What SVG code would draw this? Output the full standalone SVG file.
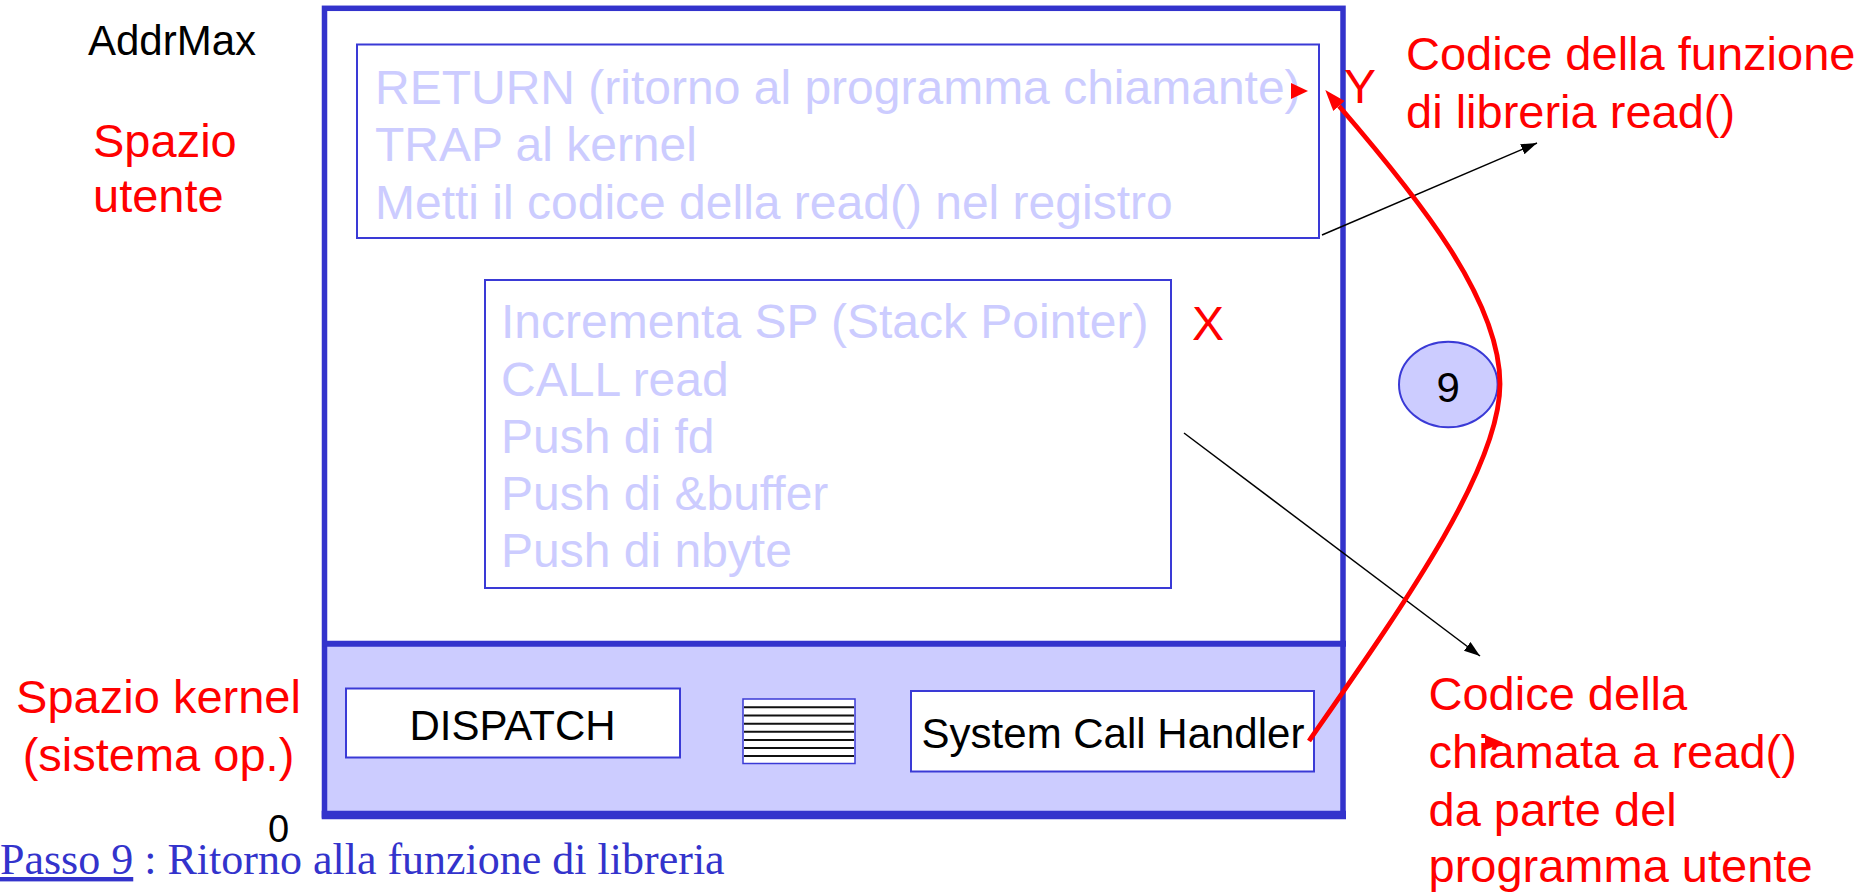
<svg xmlns="http://www.w3.org/2000/svg" width="1857" height="893" viewBox="0 0 1857 893">
<style>
.sans{font-family:"Liberation Sans",Arial,sans-serif}
.code{font-family:"Liberation Sans",Arial,sans-serif;font-size:48px;fill:#ccccff}
.red{font-family:"Liberation Sans",Arial,sans-serif;font-size:47px;fill:#ff0000}
.blk{font-family:"Liberation Sans",Arial,sans-serif;font-size:42px;fill:#000}
.box{fill:#ffffff;stroke:#3a3ad6;stroke-width:2}
.outer{fill:none;stroke:#3333cc;stroke-width:5.5}
.stripe{stroke:#111;stroke-width:2}
.conn{stroke:#000;stroke-width:1.5;fill:none}
</style>
<defs>
<marker id="ab" markerUnits="userSpaceOnUse" markerWidth="17" markerHeight="12" refX="16" refY="5.5" orient="auto">
<path d="M0,0 L16,5.5 L0,11 z" fill="#000"/>
</marker>
<marker id="ar" markerUnits="userSpaceOnUse" markerWidth="22" markerHeight="16" refX="0" refY="7.5" orient="auto">
<path d="M0,0 L21,7.5 L0,15 z" fill="#ff0000"/>
</marker>
</defs>
<rect width="1857" height="893" fill="#ffffff"/>

<g id="memory">
<rect x="324.5" y="643.7" width="1018.5" height="171.3" fill="#ccccff"/>
<rect class="outer" x="324.5" y="8.3" width="1018.5" height="806.7"/>
<line x1="322" y1="643.7" x2="1346" y2="643.7" stroke="#3333cc" stroke-width="6"/>
<line x1="321.7" y1="815" x2="1346" y2="815" stroke="#3333cc" stroke-width="8.5"/>
</g>

<g id="library-code">
<rect class="box" x="357" y="44.5" width="962" height="193.5"/>
<text class="code" x="375" y="103.5">RETURN (ritorno al programma chiamante)</text>
<text class="code" x="375" y="161">TRAP al kernel</text>
<text class="code" x="375" y="218.5">Metti il codice della read() nel registro</text>
<polygon points="1291,83 1308,91 1291,99" fill="#ff0000"/>
</g>

<g id="caller-code">
<rect class="box" x="485" y="280" width="686" height="308"/>
<text class="code" x="501" y="338.3">Incrementa SP (Stack Pointer)</text>
<text class="code" x="501" y="395.5">CALL read</text>
<text class="code" x="501" y="453">Push di fd</text>
<text class="code" x="501" y="510">Push di &amp;buffer</text>
<text class="code" x="501" y="567">Push di nbyte</text>
</g>

<g id="dispatch">
<rect class="box" x="346" y="688.5" width="334" height="69"/>
<text class="blk" x="512.5" y="740" text-anchor="middle">DISPATCH</text>
</g>

<g id="table">
<rect x="743" y="699" width="112" height="64.5" fill="#ffffff" stroke="#3a3ad6" stroke-width="1.5"/>
<line class="stripe" x1="744" y1="707.3" x2="854" y2="707.3"/>
<line class="stripe" x1="744" y1="715.5" x2="854" y2="715.5"/>
<line class="stripe" x1="744" y1="723.7" x2="854" y2="723.7"/>
<line class="stripe" x1="744" y1="731.8" x2="854" y2="731.8"/>
<line class="stripe" x1="744" y1="740" x2="854" y2="740"/>
<line class="stripe" x1="744" y1="748" x2="854" y2="748"/>
<line class="stripe" x1="744" y1="756" x2="854" y2="756"/>
</g>

<g id="handler">
<rect class="box" x="911" y="691" width="403" height="80.5"/>
<text class="blk" x="1113" y="747.7" text-anchor="middle">System Call Handler</text>
</g>

<g id="step">
<ellipse cx="1448.3" cy="384.5" rx="49.3" ry="42.8" fill="#ccccff" stroke="#3a3ad6" stroke-width="2"/>
<text class="blk" x="1448.3" y="402" text-anchor="middle">9</text>
</g>

<g id="labels">
<text class="sans" x="88" y="55" font-size="42" fill="#000">AddrMax</text>
<text class="red" x="93" y="157">Spazio</text>
<text class="red" x="93" y="212">utente</text>
<text class="red" x="158.5" y="713.3" text-anchor="middle" font-size="48">Spazio kernel</text>
<text class="red" x="158.5" y="770.5" text-anchor="middle" font-size="48">(sistema op.)</text>
<text class="sans" x="268" y="842" font-size="38" fill="#000">0</text>
<text class="sans" x="1344" y="103" font-size="48" fill="#ff0000">Y</text>
<text class="sans" x="1192" y="340" font-size="48" fill="#ff0000">X</text>
<text class="red" x="1406" y="70">Codice della funzione</text>
<text class="red" x="1406" y="128.3">di libreria read()</text>
<text class="red" x="1428.5" y="710">Codice della</text>
<text class="red" x="1428.5" y="768">chiamata a read()</text>
<text class="red" x="1428.5" y="826">da parte del</text>
<text class="red" x="1428.5" y="882">programma utente</text>
<polygon points="1485,735 1503,742.5 1485,750" fill="#ff0000"/>
<text x="0" y="874" font-family="'Liberation Serif','Times New Roman',serif" font-size="44" fill="#3333cc"><tspan text-decoration="underline">Passo 9</tspan> : Ritorno alla funzione di libreria</text>
</g>

<g id="connectors">
<line class="conn" x1="1322" y1="235" x2="1537" y2="143" marker-end="url(#ab)"/>
<line class="conn" x1="1184" y1="433" x2="1480" y2="656" marker-end="url(#ab)"/>
<path d="M1309,741 C1400,610 1500,470 1500,384 C1500,300 1420,200 1339,106" fill="none" stroke="#ff0000" stroke-width="4.8" marker-end="url(#ar)"/>
</g>
</svg>
